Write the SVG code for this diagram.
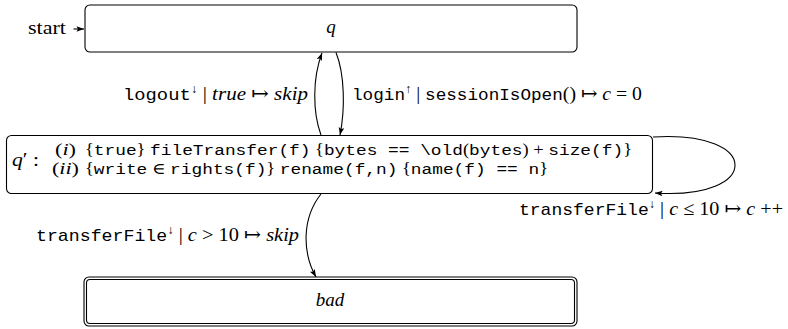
<svg xmlns="http://www.w3.org/2000/svg" width="788" height="329" viewBox="0 0 788 329">
  <style>
    .box { fill: #fff; stroke: #000; stroke-width: 1.1; }
    .edge { fill: none; stroke: #000; stroke-width: 1.1; marker-end: url(#arrow); }
    .rm { font-family: "Liberation Serif", "Times New Roman", "DejaVu Serif", serif; font-size: 19px; fill: #000; }
    .row { font-size: 16px; }
    .it { font-style: italic; }
    .tt { font-family: "Liberation Mono", "Courier New", "DejaVu Sans Mono", monospace; font-size: 17px; }
    .row .tt { font-size: 15.5px; }
    .sup { font-size: 12px; }
  </style>
  <defs>
    <marker id="arrow" markerUnits="userSpaceOnUse" markerWidth="10" markerHeight="10" refX="0" refY="0" orient="auto" overflow="visible">
      <path d="M0,0 L-7.5,-2.8 L-6,0 L-7.5,2.8 Z" fill="#000"/>
    </marker>
  </defs>

  <!-- states -->
  <g id="q">
    <rect class="box" x="85" y="5" width="492" height="47" rx="5"/>
    <text class="rm it" x="331" y="33" text-anchor="middle">q</text>
  </g>

  <g id="q-prime">
    <rect class="box" x="6.5" y="135.5" width="646" height="58" rx="5"/>
    <text class="rm" x="12" y="166" textLength="27" lengthAdjust="spacingAndGlyphs"><tspan class="it">q</tspan>′ :</text>
    <text class="rm row" x="55" y="155" textLength="21" lengthAdjust="spacingAndGlyphs">(<tspan class="it">i</tspan>)</text>
    <text class="rm row" x="52" y="174" textLength="27" lengthAdjust="spacingAndGlyphs">(<tspan class="it">ii</tspan>)</text>
    <text class="rm row" x="85" y="155" textLength="547" lengthAdjust="spacingAndGlyphs">{<tspan class="tt">true</tspan>} <tspan class="tt">fileTransfer(f)</tspan> {<tspan class="tt">bytes == \old</tspan>(<tspan class="tt">bytes</tspan>) + <tspan class="tt">size(f)</tspan>}</text>
    <text class="rm row" x="85" y="174" textLength="463" lengthAdjust="spacingAndGlyphs">{<tspan class="tt">write</tspan> ∈ <tspan class="tt">rights(f)</tspan>} <tspan class="tt">rename(f,n)</tspan> {<tspan class="tt">name(f) == n</tspan>}</text>
  </g>

  <g id="bad">
    <rect class="box" x="84" y="277" width="493" height="49" rx="5"/>
    <rect class="box" x="86.5" y="279.5" width="488" height="44" rx="3.5"/>
    <text class="rm it" x="330" y="306" text-anchor="middle">bad</text>
  </g>

  <g id="start">
    <text class="rm" x="28" y="34" textLength="38" lengthAdjust="spacingAndGlyphs">start</text>
  </g>

  <!-- transitions -->
  <g id="connectors">
    <path class="edge" d="M73.5,29 L84,29"/>
    <path class="edge" d="M321,135 C312.5,112 312.5,78 322,53"/>
    <path class="edge" d="M336,52.5 C345,75 345,110 340,135"/>
    <path class="edge" d="M653,137 C762,130 762,200 655,193"/>
    <path class="edge" d="M321,194 C302,218 302,252 316,277"/>

    <text class="rm" x="123" y="100" textLength="185" lengthAdjust="spacingAndGlyphs"><tspan class="tt">logout</tspan><tspan class="sup" dy="-7">↓</tspan><tspan dy="7"> | </tspan><tspan class="it">true</tspan> ↦ <tspan class="it">skip</tspan></text>
    <text class="rm" x="352" y="100" textLength="290" lengthAdjust="spacingAndGlyphs"><tspan class="tt">login</tspan><tspan class="sup" dy="-7">↑</tspan><tspan dy="7"> | </tspan><tspan class="tt">sessionIsOpen</tspan>() ↦ <tspan class="it">c</tspan> = 0</text>
    <text class="rm" x="519" y="215" textLength="264" lengthAdjust="spacingAndGlyphs"><tspan class="tt">transferFile</tspan><tspan class="sup" dy="-7">↓</tspan><tspan dy="7"> | </tspan><tspan class="it">c</tspan> ≤ 10 ↦ <tspan class="it">c</tspan> ++</text>
    <text class="rm" x="36" y="241" textLength="263" lengthAdjust="spacingAndGlyphs"><tspan class="tt">transferFile</tspan><tspan class="sup" dy="-7">↓</tspan><tspan dy="7"> | </tspan><tspan class="it">c</tspan> &gt; 10 ↦ <tspan class="it">skip</tspan></text>
  </g>
</svg>
